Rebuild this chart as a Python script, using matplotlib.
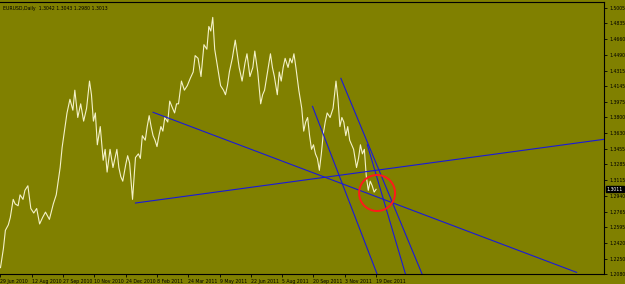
import matplotlib
matplotlib.use('Agg')
import matplotlib.pyplot as plt

# EURUSD daily closes (bar index from 29 Jun 2010)
bar_idx = [0, 3, 5, 8, 10, 13, 15, 18, 20, 23, 25, 28, 31, 34, 37, 40, 43, 46, 50, 54,
           57, 59, 61, 63, 66, 68, 71, 74, 76, 79, 82, 85, 88, 91, 93, 95, 97, 99, 102, 105,
           107, 109, 112, 115, 117, 119, 121, 123, 125, 128, 130, 132, 135, 138, 141, 143, 145, 148, 150, 152,
           154, 156, 158, 160, 162, 164, 166, 168, 171, 173, 176, 178, 180, 182, 185, 188, 191, 194, 197, 199,
           202, 205, 208, 211, 213, 215, 217, 219, 222, 225, 228, 230, 232, 234, 237, 240, 242, 244, 247, 250,
           252, 255, 258, 260, 263, 266, 268, 270, 273, 276, 278, 280, 283, 285, 287, 289, 291, 294, 296, 298,
           300, 302, 305, 308, 310, 312, 314, 316, 318, 320, 322, 324, 326, 328, 330, 332, 334, 337, 340, 343,
           345, 347, 349, 351, 353, 355, 357, 359, 361, 364, 366, 368, 370, 372, 374, 376, 378, 380, 382, 384]
close = [1.2150, 1.2360, 1.2560, 1.2620, 1.2700, 1.2900, 1.2850, 1.2830, 1.2950, 1.2900, 1.3000, 1.3050, 1.2800, 1.2750, 1.2800, 1.2630, 1.2700, 1.2760, 1.2680, 1.2850,
         1.2950, 1.3100, 1.3250, 1.3470, 1.3700, 1.3850, 1.4000, 1.3880, 1.4100, 1.3800, 1.3950, 1.3760, 1.3900, 1.4200, 1.4050, 1.3760, 1.3850, 1.3500, 1.3700, 1.3330,
         1.3450, 1.3200, 1.3450, 1.3250, 1.3350, 1.3450, 1.3250, 1.3150, 1.3100, 1.3280, 1.3380, 1.3300, 1.2900, 1.3360, 1.3400, 1.3350, 1.3600, 1.3550, 1.3700, 1.3820,
         1.3700, 1.3600, 1.3550, 1.3480, 1.3600, 1.3700, 1.3650, 1.3800, 1.3750, 1.3980, 1.3900, 1.3850, 1.3950, 1.3950, 1.4200, 1.4100, 1.4150, 1.4230, 1.4300, 1.4480,
         1.4450, 1.4250, 1.4600, 1.4550, 1.4800, 1.4750, 1.4900, 1.4550, 1.4350, 1.4150, 1.4100, 1.4050, 1.4150, 1.4300, 1.4450, 1.4650, 1.4500, 1.4350, 1.4200, 1.4400,
         1.4500, 1.4250, 1.4350, 1.4530, 1.4300, 1.3950, 1.4050, 1.4100, 1.4300, 1.4500, 1.4350, 1.4250, 1.4050, 1.4300, 1.4200, 1.4350, 1.4450, 1.4350, 1.4450, 1.4400,
         1.4500, 1.4350, 1.4100, 1.3900, 1.3650, 1.3750, 1.3800, 1.3600, 1.3450, 1.3500, 1.3400, 1.3350, 1.3220, 1.3400, 1.3620, 1.3750, 1.3850, 1.3800, 1.3900, 1.4200,
         1.4000, 1.3700, 1.3800, 1.3750, 1.3600, 1.3700, 1.3550, 1.3500, 1.3450, 1.3250, 1.3350, 1.3500, 1.3400, 1.3450, 1.3150, 1.3000, 1.3100, 1.3050, 1.2980, 1.3011]

# trendlines: (start bar, start price, end bar, end price)
trend_x0 = [138, 156, 319, 348, 375]
trend_y0 = [1.2860, 1.3857, 1.3922, 1.4230, 1.3500]
trend_x1 = [617, 589, 385, 431, 414]
trend_y1 = [1.3560, 1.2098, 1.2080, 1.2080, 1.2080]

# circle marking the latest bar
circle_x = 385
circle_y = 1.2970

x_tick_idx = [0, 32, 64, 96, 128, 160, 192, 224, 256, 288, 320, 352, 384]
x_tick_lbl = ['29 Jun 2010', '12 Aug 2010', '27 Sep 2010', '10 Nov 2010', '24 Dec 2010',
              '8 Feb 2011', '24 Mar 2011', '9 May 2011', '22 Jun 2011', '5 Aug 2011',
              '20 Sep 2011', '3 Nov 2011', '19 Dec 2011']
y_tick_val = [1.5005, 1.4835, 1.4660, 1.4490, 1.4315, 1.4145, 1.3975, 1.3800, 1.3630,
              1.3455, 1.3285, 1.3115, 1.2940, 1.2765, 1.2595, 1.2420, 1.2250, 1.2080]
last_price = 1.3011
title_txt = 'EURUSD,Daily  1.3042 1.3043 1.2980 1.3013'

bg = '#808000'
fs = 3.3

fig = plt.figure(figsize=(6.25, 2.84), dpi=100, facecolor=bg)
ax = fig.add_axes([0.0, 10 / 284, 604 / 625, 272 / 284])
ax.set_facecolor(bg)

ax.plot(bar_idx, close, color='#f4f2c8', lw=0.8)

for i in range(len(trend_x0)):
    ax.plot([trend_x0[i], trend_x1[i]], [trend_y0[i], trend_y1[i]], color='#1a1ad8', lw=0.8)

# red ring
ax.scatter([circle_x], [circle_y], s=(36 * 0.72) ** 2, facecolors='none',
           edgecolors='#ff1a1a', linewidths=1.4, zorder=5)

ax.set_xlim(-0.5, 617)
ax.set_ylim(1.2080, 1.5069)

ax.yaxis.tick_right()
ax.set_yticks(y_tick_val)
ax.set_yticklabels([f'{v:.4f}' for v in y_tick_val])
ax.set_xticks(x_tick_idx)
ax.set_xticklabels(x_tick_lbl, ha='left')
ax.tick_params(axis='both', colors='black', labelsize=fs, length=2.5, width=0.6, pad=1.2)
ax.tick_params(axis='y', pad=1.5)

for s in ['top', 'right', 'bottom']:
    ax.spines[s].set_color('black')
    ax.spines[s].set_linewidth(0.8)
ax.spines['left'].set_visible(False)

ax.text(0.005, 0.985, title_txt, transform=ax.transAxes, fontsize=fs, color='black',
        va='top', ha='left')

# current price box on the axis
ax.annotate(f'{last_price:.4f}', xy=(1, last_price), xycoords=('axes fraction', 'data'),
            xytext=(2.0, 0), textcoords='offset points', fontsize=fs, color='white',
            va='center', ha='left',
            bbox=dict(boxstyle='square,pad=0.15', fc='black', ec='black'))

fig.savefig('out.png', dpi=100, facecolor=bg)
